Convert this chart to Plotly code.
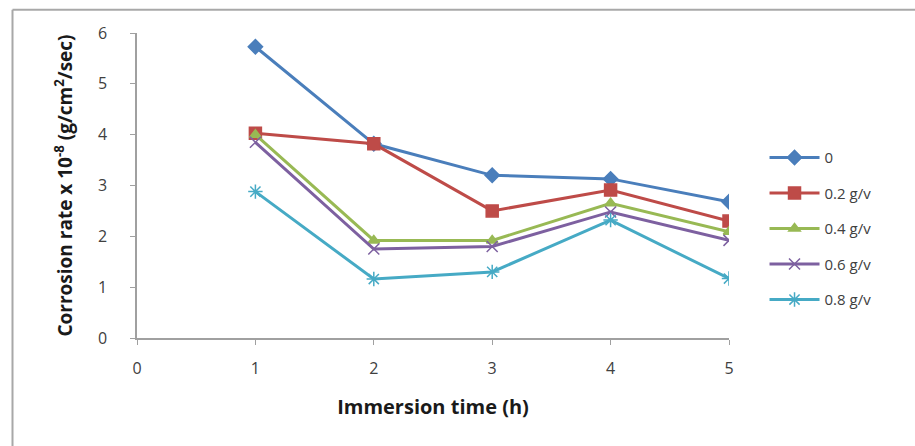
import plotly.graph_objects as go

time_h = [1, 2, 3, 4, 5]
series_names = ["0", "0.2 g/v", "0.4 g/v", "0.6 g/v", "0.8 g/v"]
rate_0 = [5.73, 3.82, 3.20, 3.13, 2.68]
rate_02 = [4.03, 3.82, 2.50, 2.91, 2.30]
rate_04 = [4.00, 1.92, 1.92, 2.65, 2.09]
rate_06 = [3.85, 1.75, 1.80, 2.48, 1.92]
rate_08 = [2.88, 1.16, 1.30, 2.32, 1.17]
x_ticks = [0, 1, 2, 3, 4, 5]
y_ticks = [0, 1, 2, 3, 4, 5, 6]

values = [rate_0, rate_02, rate_04, rate_06, rate_08]
colors = ["#4A7EBB", "#BE4B48", "#98B954", "#7D60A0", "#46AAC5"]
symbols = ["diamond", "square", "triangle-up", "x-thin", "asterisk"]
sizes = [11, 12, 10, 11, 12]

fig = go.Figure()
for i, (name, vals) in enumerate(zip(series_names, values)):
    fig.add_trace(go.Scatter(
        x=time_h, y=vals, name=name, mode="lines+markers",
        legendgroup=f"g{i}",
        line=dict(color=colors[i], width=3),
        marker=dict(symbol=symbols[i], size=sizes[i], color=colors[i],
                    line=dict(color=colors[i], width=1.5)),
    ))

font_family = "Open Sans, Lato, sans-serif"
fig.update_layout(
    width=915, height=446,
    margin=dict(l=137, r=186, t=33, b=108),
    paper_bgcolor="white", plot_bgcolor="white",
    font=dict(family=font_family, size=15, color="#404040"),
    showlegend=True,
    legend=dict(x=1.06, y=0.645, xanchor="left", yanchor="top",
                traceorder="grouped", tracegroupgap=13, itemwidth=50,
                font=dict(size=15, color="#404040"),
                bgcolor="rgba(0,0,0,0)"),
    xaxis=dict(range=[0, 5], tickvals=x_ticks, showgrid=False, zeroline=False,
               showline=True, linecolor="#A0A0A0", linewidth=1.5,
               ticks="outside", ticklen=5, tickcolor="#A0A0A0",
               ticklabelstandoff=10,
               tickfont=dict(size=16, color="#404040"),
               title=dict(text="Immersion time (h)", standoff=22,
                          font=dict(size=20, color="#1a1a1a", family=font_family,
                                    weight="bold"))),
    yaxis=dict(range=[0, 6], tickvals=y_ticks, showgrid=False, zeroline=False,
               showline=True, linecolor="#A0A0A0", linewidth=1.5,
               ticks="outside", ticklen=5, tickcolor="#A0A0A0",
               ticklabelstandoff=20,
               tickfont=dict(size=16, color="#404040"),
               title=dict(text="Corrosion rate x 10<sup>-8</sup> (g/cm<sup>2</sup>/sec)",
                          standoff=20,
                          font=dict(size=19, color="#1a1a1a", family=font_family,
                                    weight="bold"))),
    shapes=[
        dict(type="line", xref="paper", yref="paper",
             x0=-0.2103, x1=1.32, y0=1.0766, y1=1.0766,
             line=dict(color="#A8A8A8", width=2)),
        dict(type="line", xref="paper", yref="paper",
             x0=-0.2103, x1=-0.2103, y0=1.0766, y1=-0.36,
             line=dict(color="#A8A8A8", width=2)),
    ],
)
fig.write_html("out.html")
